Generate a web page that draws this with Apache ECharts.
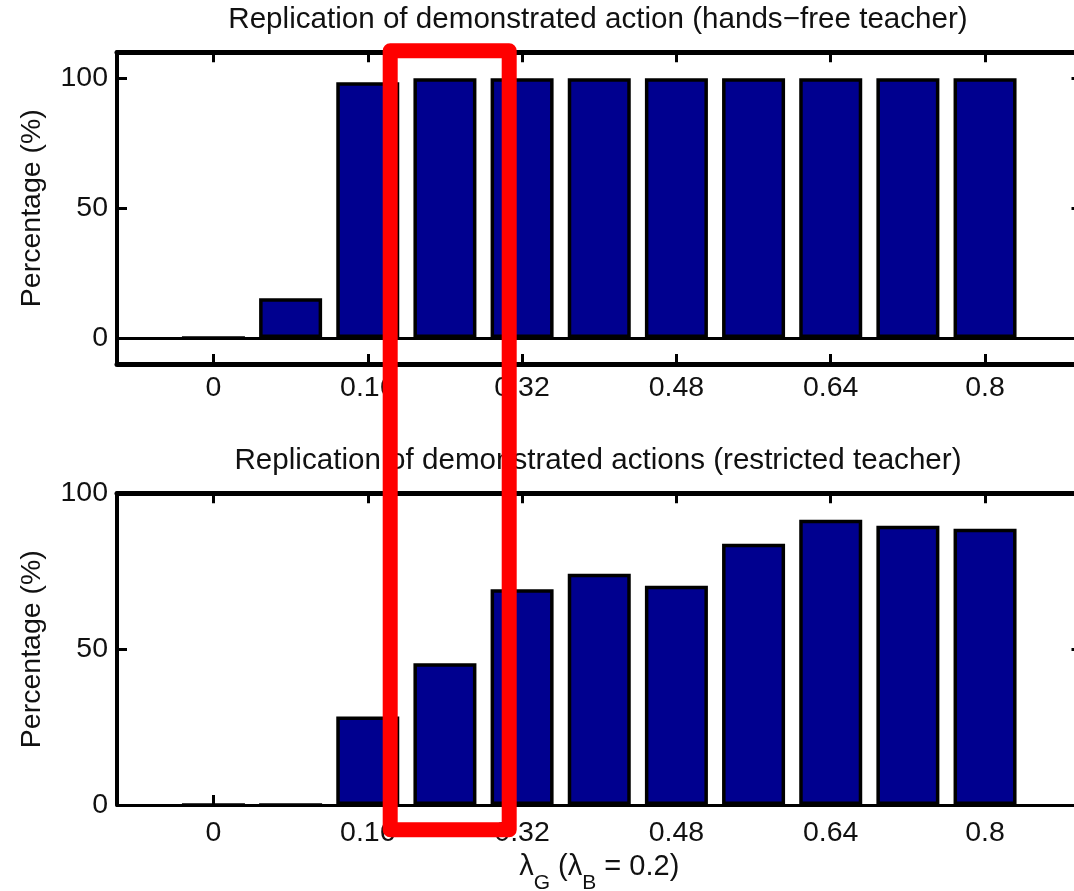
<!DOCTYPE html>
<html>
<head>
<meta charset="utf-8">
<script src="https://cdn.jsdelivr.net/npm/echarts@6/dist/echarts.min.js"></script>
<style>html,body{margin:0;padding:0;background:#fff;overflow:hidden}#c{width:1090px;height:891px}</style>
</head>
<body>
<div id="c"></div>
<script>
// ---- data ----
const lambdaG = [0, 0.08, 0.16, 0.24, 0.32, 0.40, 0.48, 0.56, 0.64, 0.72, 0.80];
const handsFree = [0, 15.3, 98.5, 100, 100, 100, 100, 100, 100, 100, 100];
const restricted = [0, 0, 28.4, 45.5, 69.2, 74.2, 70.3, 83.8, 91.5, 89.6, 88.6];
const xTickValues = [0, 0.16, 0.32, 0.48, 0.64, 0.8];
const xTickLabels = ['0', '0.16', '0.32', '0.48', '0.64', '0.8'];
const yTickValues = [0, 50, 100];
const yTickLabels = ['0', '50', '100'];
const titleTop = 'Replication of demonstrated action (hands\u2212free teacher)';
const titleBottom = 'Replication of demonstrated actions (restricted teacher)';
const yName = 'Percentage (%)';

// ---- styling ----
const FONT = '"Liberation Sans", Arial, Helvetica, sans-serif';
const TXT = '#111';
const BAR = '#00008F';

function fmtX(v) {
  const i = xTickValues.findIndex(t => Math.abs(t - v) < 1e-9);
  return i >= 0 ? xTickLabels[i] : '';
}
function fmtY(v) {
  const i = yTickValues.findIndex(t => Math.abs(t - v) < 1e-9);
  return i >= 0 ? yTickLabels[i] : '';
}

function xAxis(grid, pos, showLabel, lw, margin, extra) {
  return Object.assign({
    type: 'value', gridIndex: grid, position: pos, min: -0.1, max: 0.9,
    axisLine: { show: true, onZero: false, lineStyle: { color: '#000', width: lw } },
    axisTick: { show: true, inside: true, length: 10, lineStyle: { color: '#000', width: 3 }, customValues: xTickValues },
    axisLabel: { show: showLabel, margin: margin, color: TXT, fontSize: 28.5, fontFamily: FONT, customValues: xTickValues, formatter: fmtX },
    splitLine: { show: false }
  }, extra || {});
}
function yAxis(grid, pos, showLabel, min, max, extra) {
  return Object.assign({
    type: 'value', gridIndex: grid, position: pos, min: min, max: max,
    axisLine: { show: true, onZero: false, lineStyle: { color: '#000', width: 4 } },
    axisTick: { show: true, inside: true, length: 10, lineStyle: { color: '#000', width: 3 }, customValues: yTickValues },
    axisLabel: { show: showLabel, margin: 9, color: TXT, fontSize: 28.5, fontFamily: FONT, customValues: yTickValues, formatter: fmtY },
    splitLine: { show: false }
  }, extra || {});
}

const yNameOpts = {
  name: yName, nameLocation: 'middle', nameRotate: 90, nameGap: 70,
  nameTextStyle: { color: TXT, fontSize: 28.5, fontFamily: FONT }
};

const chart = echarts.init(document.getElementById('c'), null, { renderer: 'canvas' });
chart.setOption({
  animation: false,
  backgroundColor: '#fff',
  grid: [
    { left: 117, top: 52.3, width: 964.5, height: 311.7, outerBoundsMode: 'none', containLabel: false },
    { left: 117, top: 493.3, width: 964.5, height: 311.7, outerBoundsMode: 'none', containLabel: false }
  ],
  xAxis: [
    xAxis(0, 'bottom', true, 5, 10),
    xAxis(0, 'top', false, 5, 10),
    xAxis(1, 'bottom', true, 3, 14, {
      name: '{m|\u03bb}{s|G}{m| (\u03bb}{s|B}{m| = 0.2)}',
      nameLocation: 'middle', nameGap: 47,
      nameTextStyle: {
        color: TXT, fontFamily: FONT,
        rich: {
          m: { fontSize: 29, fontFamily: FONT, color: TXT, lineHeight: 29, verticalAlign: 'top' },
          s: { fontSize: 21, fontFamily: FONT, color: TXT, lineHeight: 21, padding: [21, 0, 0, 0], verticalAlign: 'top' }
        }
      }
    }),
    xAxis(1, 'top', false, 5, 10)
  ],
  yAxis: [
    yAxis(0, 'left', true, -10, 110, yNameOpts),
    yAxis(0, 'right', false, -10, 110),
    yAxis(1, 'left', true, 0, 100, yNameOpts),
    yAxis(1, 'right', false, 0, 100)
  ],
  series: [
    {
      type: 'bar', xAxisIndex: 0, yAxisIndex: 0,
      data: lambdaG.map((x, i) => [x, handsFree[i]]),
      barWidth: 63,
      itemStyle: { color: BAR, borderColor: '#000', borderWidth: 3.5 },
      markLine: {
        silent: true, symbol: ['none', 'none'], label: { show: false },
        lineStyle: { color: '#000', width: 3, type: 'solid' },
        data: [{ yAxis: 0 }]
      }
    },
    {
      type: 'bar', xAxisIndex: 2, yAxisIndex: 2,
      data: lambdaG.map((x, i) => [x, restricted[i]]),
      barWidth: 63,
      itemStyle: { color: BAR, borderColor: '#000', borderWidth: 3.5 }
    }
  ],
  graphic: [
    {
      type: 'text', x: 598, y: 20, z: 50,
      style: { text: titleTop, font: '29.6px ' + FONT, fill: TXT, align: 'center', verticalAlign: 'middle', textAlign: 'center', textVerticalAlign: 'middle' }
    },
    {
      type: 'text', x: 598, y: 461, z: 50,
      style: { text: titleBottom, font: '29.6px ' + FONT, fill: TXT, align: 'center', verticalAlign: 'middle', textAlign: 'center', textVerticalAlign: 'middle' }
    },
    {
      type: 'rect', z: 100,
      shape: { x: 390.2, y: 50.8, width: 119, height: 779 },
      style: { fill: 'rgba(0,0,0,0)', stroke: '#FF0000', lineWidth: 15, lineJoin: 'round' }
    }
  ]
});
</script>
</body>
</html>
